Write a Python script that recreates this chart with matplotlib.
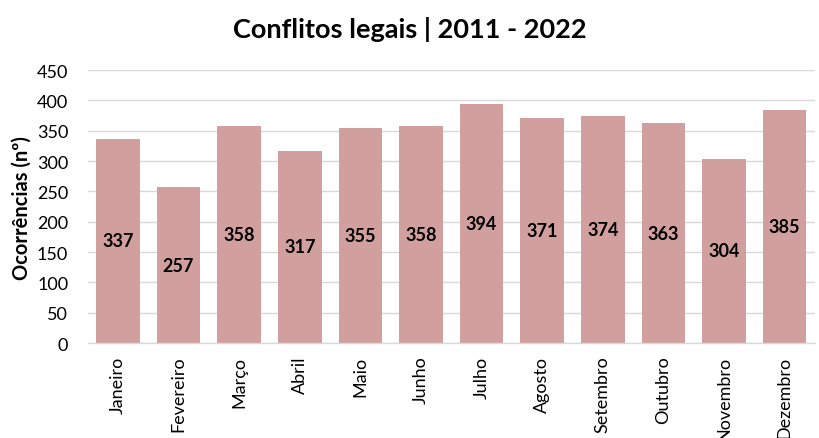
import matplotlib.pyplot as plt
import numpy as np

meses = ["Janeiro", "Fevereiro", "Março", "Abril", "Maio", "Junho", "Julho",
         "Agosto", "Setembro", "Outubro", "Novembro", "Dezembro"]
ocorrencias = [337, 257, 358, 317, 355, 358, 394, 371, 374, 363, 304, 385]

plt.rcParams['font.family'] = ['Lato', 'DejaVu Sans']

fig = plt.figure(figsize=(8.19, 4.39), dpi=100)
ax = fig.add_axes([0.107, 0.216, 0.888, 0.622])

x = np.arange(len(meses))
bars = ax.bar(x, ocorrencias, width=0.72, color='#D29F9F', zorder=2)

# rótulos de valor no meio das barras
for b, v in zip(bars, ocorrencias):
    ax.text(b.get_x() + b.get_width() / 2, v / 2, str(v), ha='center', va='center',
            fontsize=13, fontweight='bold', color='black', zorder=3)

ax.set_xlim(-0.5, len(meses) - 0.5)
ax.set_ylim(0, 450)
ax.set_yticks(range(0, 451, 50))
ax.set_xticks(x)
ax.set_xticklabels(meses, rotation=90, va='top')
ax.tick_params(axis='both', length=0, labelsize=13, colors='black')
ax.tick_params(axis='x', pad=9)
ax.tick_params(axis='y', pad=14)

ax.grid(axis='y', color='#D9D9D9', linewidth=1, zorder=0)
for s in ['top', 'right', 'left']:
    ax.spines[s].set_visible(False)
ax.spines['bottom'].set_color('#D9D9D9')
ax.spines['bottom'].set_linewidth(1)

ax.set_ylabel('Ocorrências (nº)', fontsize=14.5, fontweight='bold', labelpad=4)
fig.suptitle('Conflitos legais | 2011 - 2022', fontsize=19.5, fontweight='bold', y=0.962)

fig.savefig('out.png', dpi=100)
